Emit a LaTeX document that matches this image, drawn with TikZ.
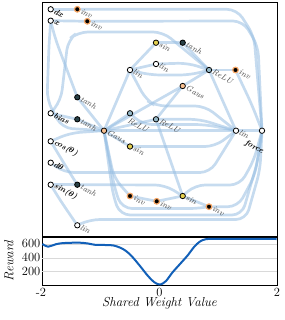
\documentclass[tikz,border=0pt]{standalone}
\usepackage{fontspec}
\pgfdeclarelayer{bg}
\pgfsetlayers{bg,main}
\definecolor{edgec}{RGB}{151,190,226}
\definecolor{curvec}{RGB}{18,96,184}
\definecolor{tanhc}{RGB}{40,64,70}
\definecolor{sinc}{RGB}{228,208,80}
\definecolor{gausc}{RGB}{248,192,145}
\definecolor{reluc}{RGB}{150,185,200}
\definecolor{invring}{RGB}{245,165,100}
\definecolor{lblc}{RGB}{70,70,70}
\DeclareRobustCommand\bth{{\boldmath$\theta$}}
\begin{document}
\begin{tikzpicture}[x=1pt,y=-1pt,
  nd/.style={circle, minimum size=5.4pt, inner sep=0pt, line width=0.8pt, draw=black},
  ionode/.style={nd, fill=white},
  linn/.style={nd, fill=white},
  tanhn/.style={nd, fill=tanhc},
  sinn/.style={nd, fill=sinc},
  gausn/.style={nd, fill=gausc},
  relun/.style={nd, fill=reluc},
  invn/.style={circle, minimum size=5.6pt, inner sep=0pt, line width=1.2pt, draw=invring, fill=black},
  edge/.style={draw=edgec, line width=2.7pt, opacity=0.55, rounded corners=10pt, line cap=round},
  hl/.style={rotate=-28, inner sep=0pt, yshift=-1pt, font=\fontsize{8.2}{9}\selectfont\itshape, text=lblc},
  il/.style={rotate=-28, inner sep=0pt, yshift=-1pt, font=\fontsize{8.2}{9}\selectfont\bfseries\itshape, text=black},
  ticklbl/.style={font=\fontsize{12.5}{14}\selectfont, inner sep=0pt},
  axlbl/.style={font=\fontsize{13}{15}\selectfont\itshape, inner sep=0pt},
  label distance=1pt
]
\useasboundingbox (0,0) rectangle (284,320);

% ---------- nodes ----------
\node[ionode, label={[il]0:dx}] (dx) at (50.7,9.3) {};
\node[ionode, label={[il]0:x}] (xx) at (50.7,20.7) {};
\node[ionode, label={[il]0:bias}] (bias) at (50.7,113.3) {};
\node[ionode] (cosn) at (50.7,141.3) {};
\node[ionode] (dth) at (50.7,162.7) {};
\node[ionode] (sinth) at (50.7,184.7) {};
\node[il, anchor=west] (lcos) at ([xshift=1pt]cosn.east) {cos(\bth)};
\node[il, anchor=west] (ldth) at ([xshift=1pt]dth.east) {d\bth};
\node[il, anchor=west] (lsinth) at ([xshift=1pt]sinth.east) {sin(\bth)};

\node[invn, label={[hl]0:inv}] (invA) at (77.3,9.3) {};
\node[invn, label={[hl]0:inv}] (invB) at (87.3,21.3) {};
\node[tanhn, label={[hl]0:tanh}] (tanhA) at (77.3,97.3) {};
\node[tanhn, label={[hl]0:tanh}] (tanhB) at (77.3,119.3) {};
\node[tanhn, label={[hl]0:tanh}] (tanhC) at (77.3,184.7) {};
\node[linn, label={[hl]0:lin}] (linA) at (77.3,225.3) {};
\node[gausn, label={[hl]0:Gaus}] (gausA) at (104,130.7) {};
\node[linn, label={[hl]0:lin}] (linB) at (130,70) {};
\node[relun, label={[hl, anchor=west, label distance=3pt]-90:ReLU}] (reluA) at (130,113.3) {};
\node[sinn, label={[hl]0:sin}] (sinA) at (130,146.5) {};
\node[invn, label={[hl]0:inv}] (invC) at (130,196) {};
\node[sinn, label={[hl]0:sin}] (sinB) at (156,42.7) {};
\node[linn, label={[hl]0:lin}] (linC) at (156,64) {};
\node[relun, label={[hl]0:ReLU}] (reluB) at (156,119.3) {};
\node[invn, label={[hl]0:inv}] (invD) at (156.7,201.3) {};
\node[tanhn, label={[hl]0:tanh}] (tanhD) at (182.7,42.7) {};
\node[gausn, label={[hl]0:Gaus}] (gausB) at (182.7,86) {};
\node[sinn, label={[hl]0:sin}] (sinC) at (182.7,196) {};
\node[relun, label={[hl]0:ReLU}] (reluC) at (209,70) {};
\node[invn, label={[hl]0:inv}] (invE) at (209,206.7) {};
\node[invn, label={[hl]0:inv}] (invF) at (235.5,70) {};
\node[linn, label={[hl]0:lin}] (linD) at (236,130.7) {};
\node[ionode] (force) at (262,130.7) {};
\node[il, anchor=west] (lforce) at (245.5,141.5) {force};

% ---------- connectors ----------
\begin{pgfonlayer}{bg}
\path[edge] (dx) -- (invA);
\path[edge] (invA) -- (237,9.3) -- (254,36) -- (force);
\path[edge] (xx) -- (invB);
\path[edge] (invB) -- (243,21) -- (258,46) -- (force);
\path[edge] (xx) -- (55,38) -- (tanhA);
\path[edge] (xx) -- (49,45) -- (47,100) -- (62,128) -- (gausA);
\path[edge] (bias) -- (61,100) -- (68,40) -- (78,32) -- (163,32) -- (reluC);
\path[edge] (tanhA) -- (gausA);
\path[edge] (bias) -- (tanhB);
\path[edge] (tanhB) -- (gausA);
\path[edge] (cosn) -- (70,133) -- (gausA);
\path[edge] (cosn) -- (65,165) -- (tanhC);
\path[edge] (sinth) -- (tanhC);
\path[edge] (sinth) -- (60,200) -- (linA);
\path[edge] (dth) -- (64,172.5) -- (210,172.5) -- (linD);
\path[edge] (linB) -- (sinB);
\path[edge] (sinB) -- (tanhD);
\path[edge] (tanhD) -- (reluC);
\path[edge] (linB) -- (linC);
\path[edge] (linC) -- (188,63) -- (reluC);
\path[edge] (linB) -- (150,75) -- (190,75) -- (reluC);
\path[edge] (gausB) -- (reluC);
\path[edge] (reluC) -- (invF);
\path[edge] (invF) -- (252,105) -- (force);
\path[edge] (reluC) -- (linD);
\path[edge] (linD) -- (force);
\path[edge] (linB) -- (gausA);
\path[edge] (linB) -- (146,100) -- (156,106) -- (205,106) -- (linD);
\path[edge] (gausA) -- (reluA);
\path[edge] (gausA) -- (gausB);
\path[edge] (gausA) -- (reluB);
\path[edge] (reluB) -- (gausB);
\path[edge] (reluB) -- (200,119.3) -- (linD);
\path[edge] (reluA) -- (142,124.5) -- (205,124.5) -- (linD);
\path[edge] (gausA) -- (linD);
\path[edge] (gausA) -- (sinA);
\path[edge] (sinA) -- (215,146.5) -- (linD);
\path[edge] (gausA) -- (114,178) -- (invC);
\path[edge] (gausA) -- (115,190) -- (122,208.5) -- (200,208.5) -- (invE);
\path[edge] (gausA) -- (113,195) -- (120,215) -- (242,215) -- (258,160) -- (force);
\path[edge] (linA) -- (90,219.5) -- (246,219.5) -- (260,170) -- (force);
\path[edge] (invC) -- (invD);
\path[edge] (invD) -- (sinC);
\path[edge] (sinC) -- (invE);
\path[edge] (invE) -- (238,206.7) -- (255,175) -- (force);
\path[edge] (reluB) -- (sinC);
\path[edge] (tanhC) -- (165,185) -- (sinC);
\path[edge] (sinC) -- (195,185) -- (240,185) -- (254,160) -- (force);
\end{pgfonlayer}

% ---------- frames ----------
\draw[line width=0.8pt] (42,2) rectangle (277,237);
\draw[line width=0.6pt] (42,237) rectangle (277,285);
\draw[line width=1.1pt] (42,237) -- (277,237);

% ---------- bottom plot ----------
\foreach \yy in {243.9,257.8,271.6}
  \draw[black!15, line width=0.5pt] (42.4,\yy) -- (276.6,\yy);
\node[ticklbl, anchor=east] (t600) at (40.5,243.9) {600};
\node[ticklbl, anchor=east] (t400) at (40.5,257.8) {400};
\node[ticklbl, anchor=east] (t200) at (40.5,271.6) {200};
\node[ticklbl, anchor=north] (tm2) at (41,288) {-2};
\node[ticklbl, anchor=north] (t0) at (159.5,288) {0};
\node[ticklbl, anchor=north] (t2) at (277,288) {2};
\node[axlbl] (xlab) at (159.5,303) {Shared Weight Value};
\node[axlbl, rotate=90] (ylab) at (9,261) {Reward};

\draw[curvec, line width=2pt, line join=round] plot[smooth, tension=0.6] coordinates {
 (42.4,244) (45,245.6) (48,246.7) (52,245.6) (56,244.2) (62,243.2) (70,242.8)
 (80,242.7) (88,243.5) (95,244.8) (105,245) (113,245.4) (120,247.6) (126,251)
 (132,256.5) (140,266) (148,276) (154,282) (158.5,284.3) (161,284.3) (166,281)
 (172,273) (180,264) (188,255) (194,247) (200,241.5) (206,239.2) (215,238.8)
 (240,238.9) (276.6,239)};
\end{tikzpicture}
\end{document}
